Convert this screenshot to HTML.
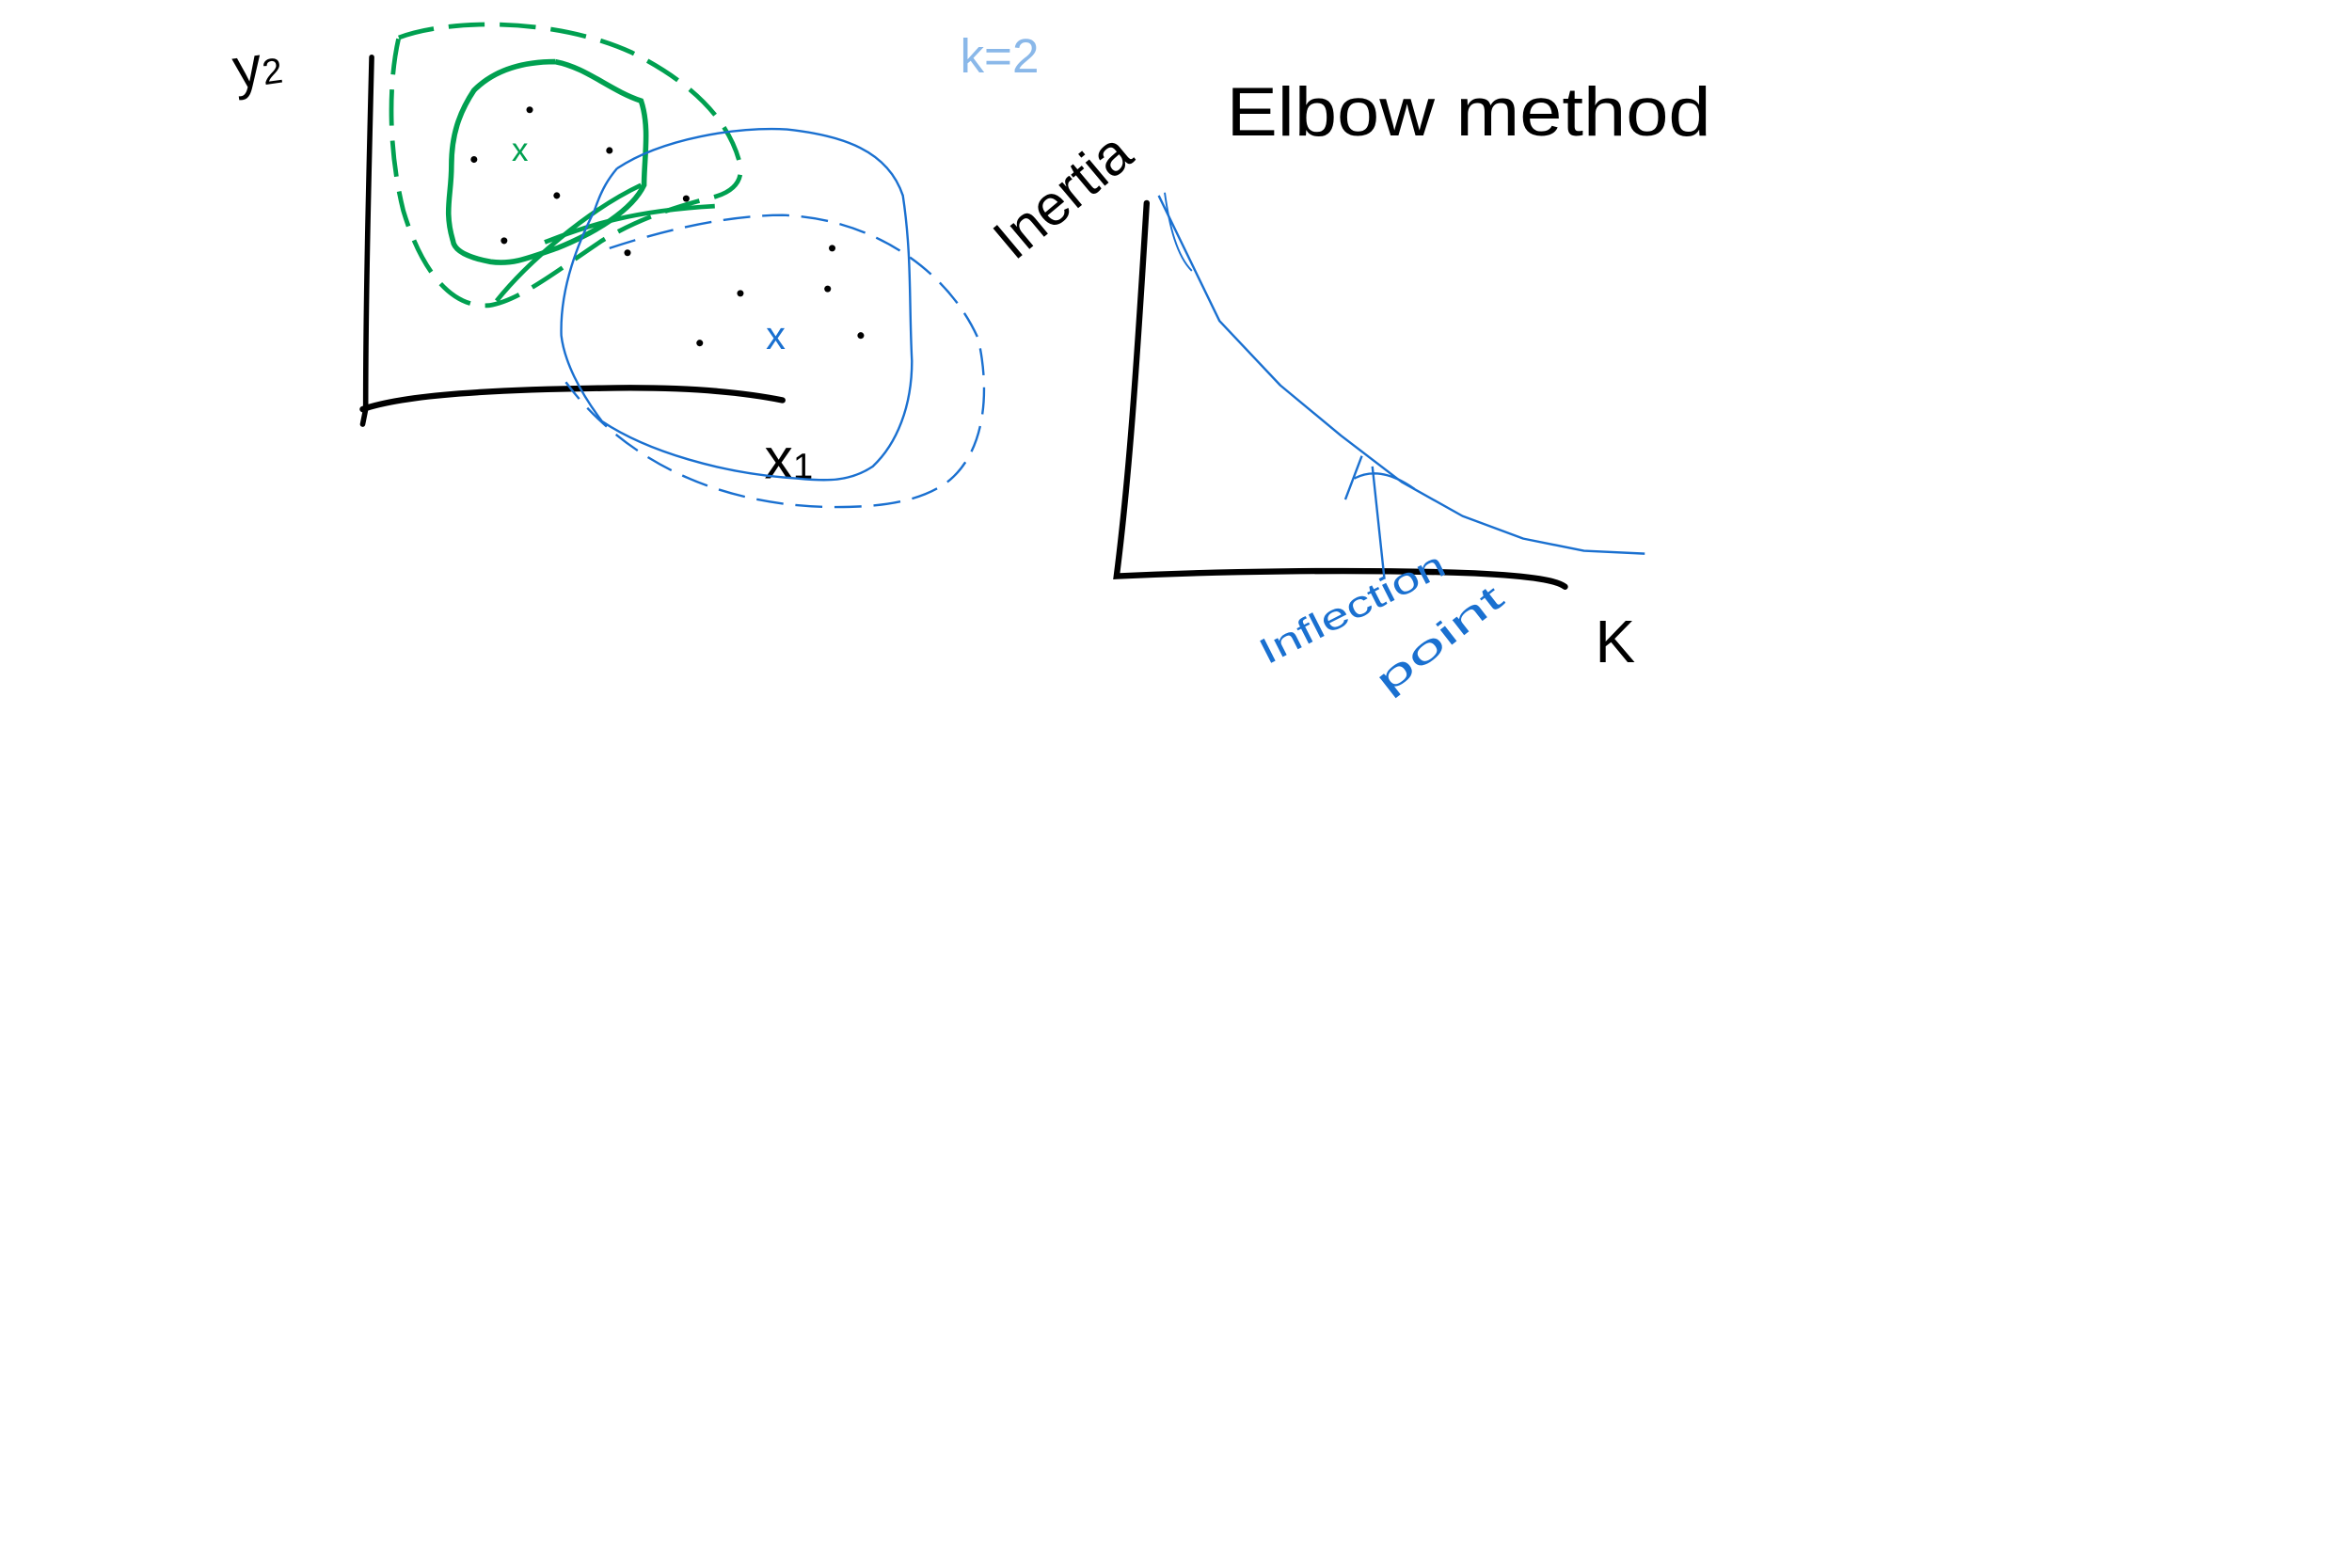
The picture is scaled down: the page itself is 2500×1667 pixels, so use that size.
<!DOCTYPE html>
<html><head><meta charset="utf-8"><style>
html,body{margin:0;padding:0;background:#fff;}
svg{display:block;}
text{font-family:"Liberation Sans",sans-serif;}
</style></head><body>
<svg id="s" width="2500" height="1667" viewBox="0 0 2500 1667">
<rect width="2500" height="1667" fill="#fff"/>
<g transform="scale(1.5995)">
<g>
  <path d="M247,38 C245,120 243,200 243,272 L241,282" stroke="#000" stroke-width="3.5" fill="none" stroke-linecap="round"/>
  <path d="M241,272 C270,262 330,259 400,258 C450,257 490,260 520,266" stroke="#000" stroke-width="4" fill="none" stroke-linecap="round"/>
  <text x="155" y="55" font-size="38" transform="rotate(-8 185 45)">y<tspan font-size="24">2</tspan></text>
  <text x="508" y="318" font-size="38">x<tspan font-size="24">1</tspan></text>
  <path d="M265,25 C300,12 370,12 420,35 C460,55 485,80 492,110 C494,125 480,130 470,132 C440,140 420,148 400,160 C370,180 345,200 325,203 C300,205 280,180 268,140 C258,100 258,55 265,25" stroke="#00a050" stroke-width="3" fill="none" stroke-dasharray="24 10"/>
  <path d="M369,41 C390,45 405,60 426,67 C432,85 428,105 428,123 C420,140 395,155 370,165 C350,172 340,176 326,174 C315,172 302,168 301,160 C295,140 300,130 300,110 C300,90 305,75 315,60 C330,45 350,41 369,41" stroke="#00a050" stroke-width="3.5" fill="none"/>
  <path d="M362,161 C390,150 420,140 475,137" stroke="#00a050" stroke-width="3" fill="none"/>
  <path d="M330,200 C350,175 390,140 426,123" stroke="#00a050" stroke-width="3" fill="none"/>
  <text x="340" y="107" font-size="22" fill="#00a050">x</text>
  <path d="M410,112 C440,92 490,84 523,86 C560,90 590,100 600,130 C606,170 604,200 606,240 C606,270 596,295 580,310 C565,320 550,320 530,318 C480,315 430,300 400,280 C385,260 375,240 373,223 C372,190 385,160 395,140 C400,125 405,118 410,112" stroke="#1a70d0" stroke-width="1.5" fill="none"/>
  <path d="M405,165 C450,150 490,143 520,143 C580,145 630,180 650,225 C658,260 655,300 630,320 C610,335 580,337 556,337 C470,337 410,300 376,254" stroke="#1a70d0" stroke-width="1.5" fill="none" stroke-dasharray="18 8"/>
  <text x="509" y="232" font-size="26" fill="#1a70d0">x</text>
  <g id="pts" fill="#000"></g>
  <text x="638" y="48" font-size="32" fill="#5a9be0" opacity="0.7">k=2</text>
</g>
<g>
  <text x="815" y="90" font-size="46" fill="#000" textLength="322" lengthAdjust="spacingAndGlyphs">Elbow method</text>
  <text x="0" y="0" font-size="38" fill="#000" transform="translate(674,174) rotate(-40)">Inertia</text>
  <path d="M762,135 C755,250 750,320 742,383 C800,380 900,378 980,381 C1020,383 1035,386 1040,390" stroke="#000" stroke-width="4" fill="none" stroke-linecap="round"/>
  <text x="1060" y="440" font-size="40" fill="#000">K</text>
  <path id="curve" stroke="#1a70d0" stroke-width="1.5" fill="none" stroke-linejoin="round"/>
  <path d="M774,128 C777,150 782,170 792,180" stroke="#1a70d0" stroke-width="1.2" fill="none"/>
  <path d="M920,385 L912,310 M905,303 L894,332 M900,318 C915,310 930,318 940,325" stroke="#1a70d0" stroke-width="1.5" fill="none"/>
  <text x="0" y="0" font-size="24" fill="#1a70d0" textLength="135" lengthAdjust="spacingAndGlyphs" transform="translate(842,442) rotate(-27)">Inflection</text>
  <text x="0" y="0" font-size="24" fill="#1a70d0" textLength="100" lengthAdjust="spacingAndGlyphs" transform="translate(922,462) rotate(-38)">point</text>
</g>
</g>
</svg>
<script>
const ptX=[352,405,315,335,370,456,553,417,550,492,465,572];
const ptY=[73,100,106,160,130,132,165,168,192,195,228,223];
const kVals=[0,1,2,3,4,5,6,7,8];
const inertia=[100,65,47,33,20,10.5,4.2,0.8,0];
const g=document.getElementById('pts');
for(let i=0;i<ptX.length;i++){
  const c=document.createElementNS('http://www.w3.org/2000/svg','circle');
  c.setAttribute('cx',ptX[i]);c.setAttribute('cy',ptY[i]);c.setAttribute('r',2.2);
  
  
  g.appendChild(c);
}
const xs=k=>770+(k/8)*323;
const ys=v=>368-(v/100)*238;
let d='';
kVals.forEach((k,i)=>{d+=(i?' L':'M')+xs(k).toFixed(1)+','+ys(inertia[i]).toFixed(1);});
document.getElementById('curve').setAttribute('d',d);
</script>
</body></html>
